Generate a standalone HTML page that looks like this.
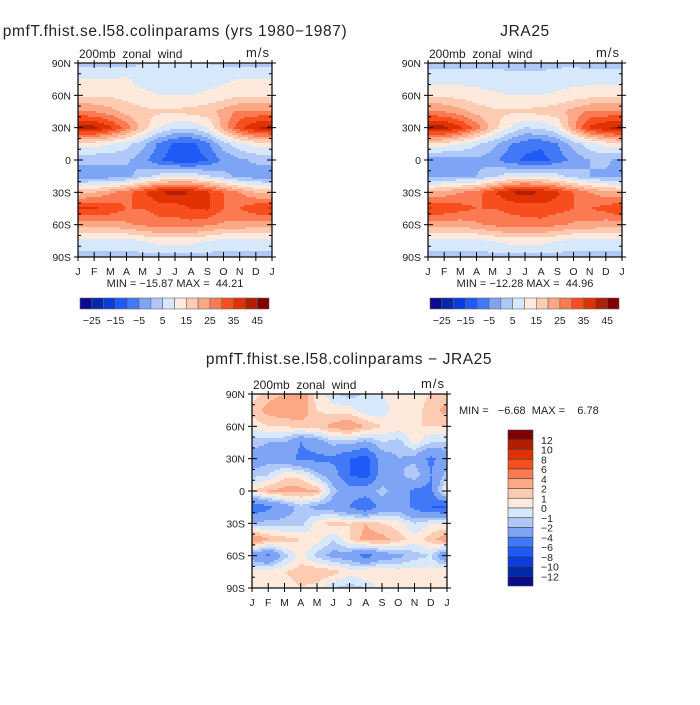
<!DOCTYPE html>
<html><head><meta charset="utf-8">
<style>
body{margin:0;background:#fff;}
svg text{font-family:"Liberation Sans",sans-serif;fill:#222;white-space:pre;}
</style></head>
<body>
<svg id="fig" width="700" height="700" viewBox="0 0 700 700" xmlns="http://www.w3.org/2000/svg">
<rect width="700" height="700" fill="#fff"/>
</svg>
<script>
// ---- data ----
const months = ["J","F","M","A","M","J","J","A","S","O","N","D","J"];
const lats = [90,75,60,45,30,15,0,-15,-30,-45,-60,-75,-90];
const latTicks = ["90N","60N","30N","0","30S","60S","90S"];
const modelU = [
 [3,3,3,3,5,5,5,5,5,4,3,3,3],
 [10,10,10,11,7,6,6,7,8,9,10,10,10],
 [14,14,14,13,12,10,10,10,11,12,14,14,14],
 [26,25,22,18,16,16,16,17,18,22,26,26,26],
 [42,42,36,28,18,10,6,6,10,22,34,40,42],
 [12,12,10,7,2,-6,-11,-12,-6,3,9,12,12],
 [1,1,1,1,-3,-9,-13,-14,-10,-4,-1,1,1],
 [-3,-3,-3,-2,3,7,9,9,6,2,-2,-3,-3],
 [18,20,24,28,34,40,42,40,36,30,25,20,18],
 [36,36,34,30,30,32,32,35,36,30,30,34,36],
 [22,22,22,24,26,28,28,28,26,24,24,22,22],
 [8,8,8,8,10,12,12,12,10,8,8,8,8],
 [3,3,3,3,3,3,3,3,3,3,3,3,3]
];
const jraU = [
 [3,3,3,3,4,4,4,4,4,4,3,3,3],
 [8,8,8,8,7,6,6,6,7,8,8,8,8],
 [14,14,13,12,11,10,10,10,11,12,13,14,14],
 [26,25,22,18,16,16,16,17,18,22,26,26,26],
 [42,42,36,28,18,10,5,6,10,24,36,40,42],
 [14,13,10,6,2,-4,-8,-9,-5,2,8,12,14],
 [-2,-3,-2,-1,-3,-8,-11,-12,-8,-3,0,1,-2],
 [-1,-1,-1,0,4,8,10,9,7,3,0,-1,-1],
 [20,22,25,28,34,40,42,40,36,30,25,22,20],
 [36,34,32,30,30,31,32,33,32,30,30,32,36],
 [22,22,22,24,26,28,28,28,26,24,24,22,22],
 [8,8,8,8,10,12,12,12,10,8,8,8,8],
 [3,3,3,3,3,3,3,3,3,3,3,3,3]
];
const diffU = [
 [0.5,1.5,2,3,0.5,-0.8,-1.5,-0.8,0,1,0.5,1,1.5],
 [1.5,2.5,3,3,1,0.5,0.5,-0.8,-0.8,1,0.5,1.5,2.5],
 [0.3,1,1,1.5,1.5,2.5,3,2,1,0.5,1,1,1],
 [-1.5,-2,-2,-4,-3,-1.5,-1.5,-2.5,-1,-1.5,0.3,-1,-1],
 [-3,-2.5,-3,-4.5,-4.5,-4.5,-6,-7,-3,-2,-2.5,-4.5,-3],
 [-1.5,-1,0.5,0.5,-1.5,-3,-6,-7,-3,-2.5,-1,-4,-1.5],
 [1,2,2.5,2.5,2,-1.5,-3,-3,-1.5,-3,-4.5,-4.5,1],
 [-6,-4.5,-3,-1.5,-2.5,-3,-4,-6,-3,-3,-4.5,-6,-6.5],
 [-1.5,-1.5,-1.5,-1.5,0.5,1.5,1,2,1,0.5,-1,0,0],
 [3.5,2,1.5,1,0.5,-1,1,2.5,2.5,1.5,0.5,1.5,3],
 [-3,-4.5,-1.5,0.5,-1.5,-2.5,-3,-5,-3,-2.5,-1.5,-1,-4],
 [0.5,0.5,1,1.5,2,1.5,0.5,1,1,0.5,0.5,0.5,1],
 [1,0.5,0.5,1,0.5,-1,-1.5,-1,0.5,0.5,0.5,0.5,0.5]
];
const absLevels = [-25,-20,-15,-10,-5,0,5,10,15,20,25,30,35,40,45];
const absLabels = ["-25","-15","-5","5","15","25","35","45"];
const diffLevels = [-12,-10,-8,-6,-4,-2,-1,0,1,2,4,6,8,10,12];
const diffLabels = ["12","10","8","6","4","2","1","0","-1","-2","-4","-6","-8","-10","-12"];
const palette = ["#0a0a8c","#0028aa","#0a3ce0","#1e5af5","#4078f5","#7ea4f6","#b0c8f8","#d6e8fa","#feeadc","#fdcab2","#fca886","#fb7a52","#f84e1e","#e03200","#b21e00","#800000"];

const NS="http://www.w3.org/2000/svg";
const svg=document.getElementById('fig');
function el(tag,attrs,parent){const e=document.createElementNS(NS,tag);for(const k in attrs)e.setAttribute(k,attrs[k]);(parent||svg).appendChild(e);return e;}
function txt(s,x,y,size,anchor,parent,ls){const t=el('text',{x:x,y:y,'font-size':size,'text-anchor':anchor||'start','letter-spacing':ls||0},parent);t.textContent=s.replace(/-/g,'\u2212');return t;}
function levelIndex(v,levels){let i=0;while(i<levels.length&&v>=levels[i])i++;return i;}
function sample(grid,fx,fy){
  const x0=Math.min(11,Math.floor(fx)),y0=Math.min(11,Math.floor(fy));const tx=fx-x0,ty=fy-y0;
  const a=grid[y0][x0],b=grid[y0][x0+1],c=grid[y0+1][x0],d=grid[y0+1][x0+1];
  return (a*(1-tx)+b*tx)*(1-ty)+(c*(1-tx)+d*tx)*ty;
}
function panel(name,grid,levels,X,Y,W,H,mmText){
  const g=el('g',{});
  
  
  const xScale=m=>X+m/12*W, yScale=lat=>Y+(90-lat)/180*H;
  const cell=2, nx=Math.ceil(W/cell), ny=Math.ceil(H/cell);
  const fg=el('g',{'shape-rendering':'crispEdges'},g);
  
  
  for(let j=0;j<ny;j++){
    const py=Y+j*cell, lat=90-((j+0.5)*cell/H)*180, fy=(90-lat)/15;
    let runStart=0,runIdx=-1;
    for(let i=0;i<=nx;i++){
      let idx=-2;
      if(i<nx){const m=((i+0.5)*cell/W)*12;idx=levelIndex(sample(grid,Math.max(0,Math.min(12,m)),Math.max(0,Math.min(12,fy))),levels);}
      if(idx!==runIdx){
        if(runIdx>=0){const r=el('rect',{x:X+runStart*cell,y:py,width:Math.min((i-runStart)*cell,W-runStart*cell),height:Math.min(cell,Y+H-py),fill:palette[runIdx]},fg);
          
          }
        runStart=i;runIdx=idx;
      }
    }
  }
  const fr=el('rect',{x:X,y:Y,width:W,height:H,fill:'none',stroke:'#000','stroke-width':1.2},g);
  
  
  months.forEach((m,i)=>{const x=xScale(i);
    el('line',{x1:x,y1:Y,x2:x,y2:Y+5,stroke:'#000'},g);el('line',{x1:x,y1:Y,x2:x,y2:Y-3,stroke:'#000'},g);
    el('line',{x1:x,y1:Y+H,x2:x,y2:Y+H-5,stroke:'#000'},g);el('line',{x1:x,y1:Y+H,x2:x,y2:Y+H+4,stroke:'#000'},g);
    const t=txt(m,x,Y+H+18,10.5,'middle',g);
    
    
  });
  for(let lat=-90;lat<=90;lat+=10){const y=yScale(lat);const major=lat%30===0;const L=major?5:3;
    el('line',{x1:X-(major?4:0),y1:y,x2:X+L,y2:y,stroke:'#000'},g);
    el('line',{x1:X+W+(major?4:0),y1:y,x2:X+W-L,y2:y,stroke:'#000'},g);}
  latTicks.forEach((s,i)=>{const t=txt(s,X-7,yScale(90-30*i)+4,10.5,'end',g);
    
    });
  const st=txt('200mb  zonal  wind',X+1,Y-5,12,'start',g);
  
  
  const un=txt('m/s',X+W-2,Y-6,13,'end',g,1);
  
  
  if(mmText){const mm=txt(mmText,X+W/2,Y+H+30,11,'middle',g);
    
    }
}
function hbar(name,X,Y,W,H){
  const g=el('g',{});
  
  
  const bw=W/16;
  palette.forEach((c,i)=>{const r=el('rect',{x:X+i*bw,y:Y,width:bw,height:H,fill:c,stroke:'#666','stroke-width':0.6},g);
    
    });
  absLabels.forEach((s,k)=>{const t=txt(s,X+(1+2*k)*bw,Y+H+15,10.5,'middle',g);
    
    });
}
function title(s,x,y,size,name,ls){const t=txt(s,x,y,size,'middle',null,ls);}

title('pmfT.fhist.se.l58.colinparams (yrs 1980-1987)',175,36,15.5,'model-title',0.6);
panel('model-panel',modelU,absLevels,78,63,194,194,'MIN = -15.87 MAX =  44.21');
hbar('model-colorbar',80,298,189,11);
title('JRA25',525,36,15.5,'jra25-title',0.6);
panel('jra25-panel',jraU,absLevels,428,63,194,194,'MIN = -12.28 MAX =  44.96');
hbar('jra25-colorbar',430,298,189,11);
title('pmfT.fhist.se.l58.colinparams - JRA25',349,364,15.5,'difference-title',0.6);
panel('difference-panel',diffU,diffLevels,252,394,195,194,null);
const mm=txt('MIN =   -6.68  MAX =    6.78',459,414,11,'start');


(function(){const X=508,Y=430,W=25,H=156,bh=H/16;
  const g=el('g',{});
  
  
  palette.slice().reverse().forEach((c,i)=>{const r=el('rect',{x:X,y:Y+i*bh,width:W,height:bh,fill:c,stroke:'#444','stroke-width':0.6},g);
    
    });
  diffLabels.forEach((s,k)=>{const t=txt(s,X+W+8,Y+(k+1)*bh+4,10.5,'start',g);
    
    });
})();
</script>
</body></html>
